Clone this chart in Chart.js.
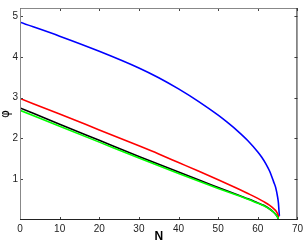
<!DOCTYPE html>
<html>
<head>
<meta charset="utf-8">
<script src="https://cdn.jsdelivr.net/npm/chart.js@4"></script>
<style>
  html, body { margin: 0; padding: 0; background: #fff; }
  #wrap { width: 306px; height: 244px; }
</style>
</head>
<body>
<div id="wrap"><canvas id="phiChart" width="306" height="244"></canvas></div>
<script>
// values
const nBlue   = [0, 10, 20, 30, 35, 40, 45, 50, 52.5, 55, 57.5, 60, 61, 62, 63, 64, 64.5, 65, 65.2, 65.35, 65.45];
const phiBlue = [4.85, 4.51, 4.14, 3.73, 3.49, 3.215, 2.91, 2.57, 2.38, 2.175, 1.945, 1.67, 1.54, 1.385, 1.195, 0.935, 0.80, 0.56, 0.42, 0.22, 0.10];

const nRed   = [0, 10, 20, 30, 35, 40, 45, 50, 52.5, 55, 57.5, 60, 61.5, 63, 64, 64.6, 65, 65.3];
const phiRed = [2.98, 2.60, 2.21, 1.82, 1.62, 1.41, 1.20, 0.985, 0.875, 0.765, 0.65, 0.53, 0.45, 0.36, 0.28, 0.22, 0.15, 0.07];

const nBlack   = [0, 10, 20, 30, 40, 45, 50, 55, 57.5, 60, 61.5, 63, 64, 64.6, 65, 65.2];
const phiBlack = [2.75, 2.35, 1.955, 1.56, 1.175, 0.985, 0.80, 0.615, 0.52, 0.42, 0.36, 0.27, 0.19, 0.13, 0.07, 0.02];

const nGreen   = [0, 10, 20, 30, 40, 45, 50, 55, 57.5, 60, 61.5, 63, 64, 64.6, 65, 65.2];
const phiGreen = [2.69, 2.30, 1.91, 1.52, 1.14, 0.955, 0.775, 0.60, 0.51, 0.41, 0.35, 0.265, 0.19, 0.13, 0.07, 0.02];

const xTicks = [0, 10, 20, 30, 40, 50, 60, 70];
const yTicks = [1, 2, 3, 4, 5];

function pts(xs, ys) {
    return xs.map((x, i) => ({ x: x, y: ys[i] }));
}

function line(label, color, xs, ys) {
    return {
        label: label,
        data: pts(xs, ys),
        borderColor: color,
        backgroundColor: color,
        borderWidth: 1.6,
        pointRadius: 0,
        cubicInterpolationMode: 'monotone',
        fill: false
    };
}

const font = { family: 'Liberation Sans, Arial, sans-serif', size: 10 };

// matlab-like frame: inward ticks on all four sides, axis labels
const framePlugin = {
    id: 'frame',
    afterDraw(chart) {
        const c = chart.ctx;
        const a = chart.chartArea;
        const xs = chart.scales.x, ys = chart.scales.y;
        c.save();
        c.lineWidth = 1;
        c.strokeStyle = '#444';
        c.beginPath();
        xTicks.forEach(v => {
            const px = Math.round(xs.getPixelForValue(v)) + 0.5;
            c.moveTo(px, a.bottom); c.lineTo(px, a.bottom - 3);
            c.moveTo(px, a.top); c.lineTo(px, a.top + 3);
        });
        yTicks.forEach(v => {
            const py = Math.round(ys.getPixelForValue(v)) + 0.5;
            c.moveTo(a.left, py); c.lineTo(a.left + 3, py);
            c.moveTo(a.right, py); c.lineTo(a.right - 3, py);
        });
        c.stroke();
        // box
        c.strokeStyle = '#888';
        c.beginPath();
        c.moveTo(a.left + 0.5, a.bottom); c.lineTo(a.left + 0.5, a.top + 0.5); c.lineTo(a.right, a.top + 0.5);
        c.stroke();
        c.strokeStyle = '#222';
        c.beginPath();
        c.moveTo(a.left, a.bottom - 0.5); c.lineTo(a.right - 0.5, a.bottom - 0.5); c.lineTo(a.right - 0.5, a.top);
        c.stroke();
        // titles
        c.fillStyle = '#000';
        c.textAlign = 'center';
        c.textBaseline = 'middle';
        c.font = 'bold 12px Liberation Sans, Arial, sans-serif';
        c.fillText('N', (a.left + a.right) / 2, 237);
        c.translate(6, (a.top + a.bottom) / 2);
        c.rotate(-Math.PI / 2);
        c.font = '12px DejaVu Sans, sans-serif';
        c.fillText('\u03c6', 0, 0);
        c.restore();
    }
};

const ctx = document.getElementById('phiChart').getContext('2d');
const phiChart = new Chart(ctx, {
    type: 'line',
    data: {
        datasets: [
            line('green', '#00ff00', nGreen, phiGreen),
            line('black', '#000000', nBlack, phiBlack),
            line('red', '#ff0000', nRed, phiRed),
            line('blue', '#0000ff', nBlue, phiBlue)
        ]
    },
    options: {
        responsive: false,
        animation: false,
        layout: { padding: { top: 1, right: 6, left: 0, bottom: 0 } },
        plugins: {
            legend: { display: false },
            tooltip: { enabled: false }
        },
        scales: {
            x: {
                type: 'linear',
                min: 0,
                max: 70,
                afterBuildTicks: s => { s.ticks = xTicks.map(v => ({ value: v })); },
                afterFit: s => { s.height = 24; },
                grid: { display: false, drawTicks: false },
                border: { display: false },
                ticks: { color: '#222', font: font, padding: 3, maxRotation: 0 }
            },
            y: {
                type: 'linear',
                min: 0,
                max: 5.2,
                afterBuildTicks: s => { s.ticks = yTicks.map(v => ({ value: v })); },
                afterFit: s => { s.width = 20; },
                grid: { display: false, drawTicks: false },
                border: { display: false },
                ticks: { color: '#222', font: font, padding: 2 }
            }
        }
    },
    plugins: [framePlugin]
});
</script>
</body>
</html>
